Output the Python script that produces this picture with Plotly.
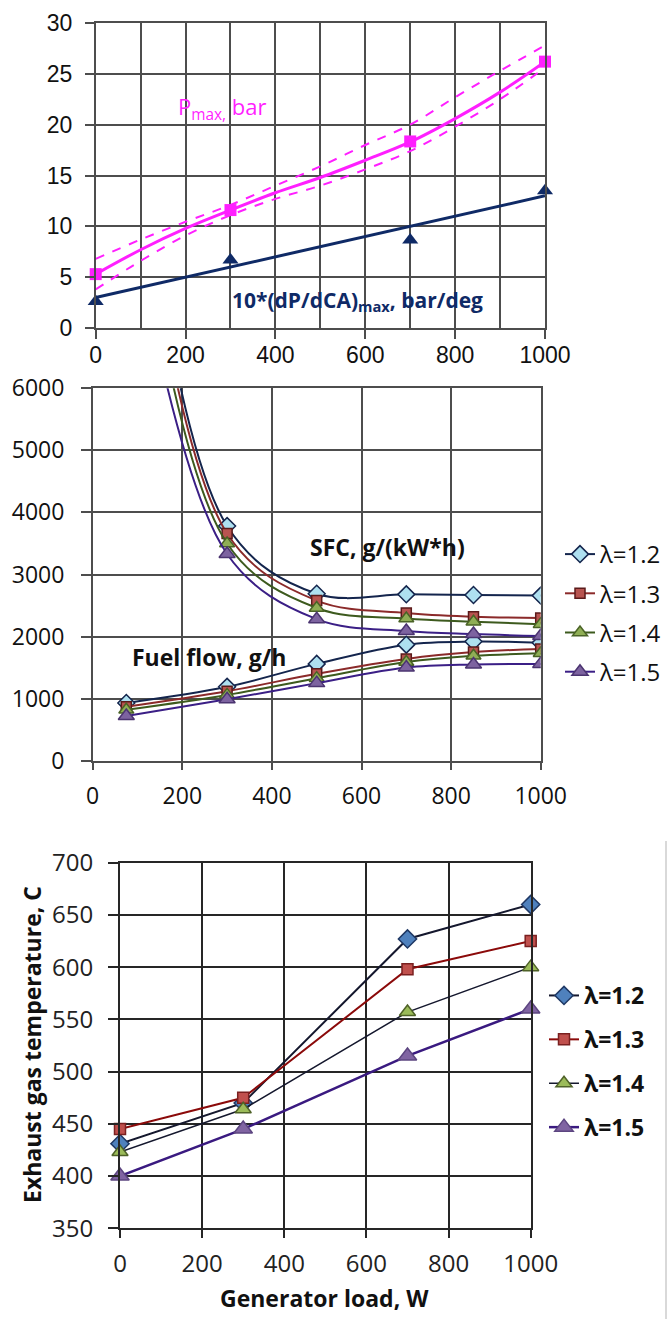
import plotly.graph_objects as go

W, H = 670, 1319

# ---------------- Top panel data ----------------
load_top = [0, 300, 700, 1000]
pmax_pts = [5.3, 11.6, 18.35, 26.2]
dpdca_pts = [2.6, 6.7, 8.65, 13.5]

fit_x = [0, 100, 200, 300, 400, 500, 600, 700, 800, 900, 1000]
pmax_fit = [5.3, 7.7, 9.8, 11.6, 13.3, 14.8, 16.5, 18.3, 20.6, 23.2, 26.2]
pmax_upper = [6.8, 8.7, 10.45, 12.1, 14.0, 15.9, 18.0, 20.0, 22.7, 25.3, 27.8]
pmax_lower = [3.8, 6.6, 9.1, 11.1, 12.7, 14.0, 15.6, 17.4, 19.8, 22.5, 25.6]
dp_fit_x = [0, 1000]
dp_fit = [3.0, 13.0]

# ---------------- Middle panel data ----------------
load_mid = [75, 300, 500, 700, 850, 1000]
lambdas = ["λ=1.2", "λ=1.3", "λ=1.4", "λ=1.5"]
sfc = {
    "λ=1.2": [11600, 3780, 2690, 2680, 2670, 2660],
    "λ=1.3": [11000, 3660, 2580, 2380, 2320, 2300],
    "λ=1.4": [10300, 3500, 2460, 2290, 2240, 2200],
    "λ=1.5": [9200, 3330, 2280, 2090, 2040, 2010],
}
fuel = {
    "λ=1.2": [930, 1190, 1560, 1870, 1920, 1900],
    "λ=1.3": [870, 1120, 1400, 1640, 1750, 1800],
    "λ=1.4": [820, 1060, 1330, 1590, 1690, 1730],
    "λ=1.5": [720, 990, 1250, 1500, 1550, 1560],
}

# ---------------- Bottom panel data ----------------
load_bot = [0, 300, 700, 1000]
exh = {
    "λ=1.2": [431, 470, 627, 660],
    "λ=1.3": [445, 475, 598, 625],
    "λ=1.4": [423, 464, 557, 600],
    "λ=1.5": [400, 445, 515, 560],
}

# ---------------- styles ----------------
mid_style = {
    "λ=1.2": dict(sym="diamond", fill="#aee0f0", edge="#14254d", line="#14254d", size=13),
    "λ=1.3": dict(sym="square", fill="#b85450", edge="#5a1a1a", line="#8b2a2a", size=10),
    "λ=1.4": dict(sym="triangle-up", fill="#8fae55", edge="#4a6326", line="#3d5a1e", size=13),
    "λ=1.5": dict(sym="triangle-up", fill="#7d63a0", edge="#4b3470", line="#3b1f86", size=14),
}
bot_style = {
    "λ=1.2": dict(sym="diamond", fill="#4f81bd", edge="#1f3864", line="#15182e", size=14, lw=2),
    "λ=1.3": dict(sym="square", fill="#c0504d", edge="#7a2020", line="#8b0a0a", size=11, lw=2),
    "λ=1.4": dict(sym="triangle-up", fill="#9bbb59", edge="#4f6228", line="#15182e", size=14, lw=1.5),
    "λ=1.5": dict(sym="triangle-up", fill="#8064a2", edge="#5c4580", line="#3a1a80", size=16, lw=2.5),
}

def py(px):
    return 1 - px / H

def pxx(px):
    return px / W

fig = go.Figure()

MAG = "#ff1fff"
NAVY = "#0f2a66"

# top traces
fig.add_trace(go.Scatter(x=fit_x, y=pmax_upper, mode="lines", line=dict(color=MAG, width=2, dash="dash", shape="spline"),
                         xaxis="x", yaxis="y", showlegend=False))
fig.add_trace(go.Scatter(x=fit_x, y=pmax_lower, mode="lines", line=dict(color=MAG, width=2, dash="dash", shape="spline"),
                         xaxis="x", yaxis="y", showlegend=False))
fig.add_trace(go.Scatter(x=fit_x, y=pmax_fit, mode="lines", line=dict(color=MAG, width=3, shape="spline"),
                         xaxis="x", yaxis="y", showlegend=False))
fig.add_trace(go.Scatter(x=load_top, y=pmax_pts, mode="markers", marker=dict(symbol="square", size=12, color=MAG),
                         xaxis="x", yaxis="y", showlegend=False, cliponaxis=False))
fig.add_trace(go.Scatter(x=dp_fit_x, y=dp_fit, mode="lines", line=dict(color=NAVY, width=3),
                         xaxis="x", yaxis="y", showlegend=False))
fig.add_trace(go.Scatter(x=load_top, y=dpdca_pts, mode="markers", marker=dict(symbol="triangle-up", size=14, color=NAVY),
                         xaxis="x", yaxis="y", showlegend=False, cliponaxis=False))

# middle traces
for lam in lambdas:
    s = mid_style[lam]
    mk = dict(symbol=s["sym"], size=s["size"], color=s["fill"], line=dict(color=s["edge"], width=1.5))
    fig.add_trace(go.Scatter(x=load_mid, y=sfc[lam], mode="lines+markers", name=lam, legendgroup=lam,
                             line=dict(color=s["line"], width=2, shape="spline"), marker=mk,
                             xaxis="x2", yaxis="y2", showlegend=True, legend="legend"))
    fig.add_trace(go.Scatter(x=load_mid, y=fuel[lam], mode="lines+markers", name=lam, legendgroup=lam,
                             line=dict(color=s["line"], width=2, shape="spline"), marker=mk,
                             xaxis="x2", yaxis="y2", showlegend=False))

# bottom traces
for lam in lambdas:
    s = bot_style[lam]
    mk = dict(symbol=s["sym"], size=s["size"], color=s["fill"], line=dict(color=s["edge"], width=1.5))
    fig.add_trace(go.Scatter(x=load_bot, y=exh[lam], mode="lines+markers", name=lam, legendgroup="b" + lam,
                             line=dict(color=s["line"], width=s["lw"]), marker=mk, cliponaxis=False,
                             xaxis="x3", yaxis="y3", showlegend=True, legend="legend2"))

GRID = "#4d4d4d"
GRID3 = "#262626"

def axis_common(font, color, gw):
    return dict(showgrid=True, gridcolor=color, gridwidth=gw, zeroline=False,
                showline=True, linecolor=color, linewidth=gw, mirror=True,
                ticks="outside", tickcolor=color, tickwidth=gw, tickfont=font)

top_font = dict(family="Liberation Sans, Arial", size=23, color="#111")
mid_font = dict(family="Open Sans", size=23, color="#111")
bot_font = dict(family="Open Sans", size=24, color="#222")

fig.update_layout(
    width=W, height=H, margin=dict(l=0, r=0, t=0, b=0, autoexpand=False),
    paper_bgcolor="white", plot_bgcolor="white",
    xaxis=dict(domain=[pxx(95.7), pxx(545)], anchor="y", range=[0, 1000], dtick=200, tick0=0,
               ticklen=9, ticklabelstandoff=-3,
               minor=dict(dtick=100, showgrid=True, gridcolor=GRID, gridwidth=1.5),
               **axis_common(top_font, GRID, 1.5)),
    yaxis=dict(domain=[py(328), py(23)], anchor="x", range=[0, 30], dtick=5, ticklen=9, ticklabelstandoff=8,
               **axis_common(top_font, GRID, 1.5)),
    xaxis2=dict(domain=[pxx(92.7), pxx(540.7)], anchor="y2", range=[0, 1000], dtick=200, ticklen=8,
                ticklabelstandoff=6, **axis_common(mid_font, GRID, 1.5)),
    yaxis2=dict(domain=[py(760.7), py(388.3)], anchor="x2", range=[0, 6000], dtick=1000, ticklen=10,
                ticklabelstandoff=12, **axis_common(mid_font, GRID, 1.5)),
    xaxis3=dict(domain=[pxx(120), pxx(530.7)], anchor="y3", range=[0, 1000], dtick=200, ticklen=8,
                ticklabelstandoff=5, **axis_common(bot_font, GRID3, 2)),
    yaxis3=dict(domain=[py(1228.3), py(862.7)], anchor="x3", range=[350, 700], dtick=50, ticklen=10,
                ticklabelstandoff=10, **axis_common(bot_font, GRID3, 2)),
    legend=dict(x=pxx(560), y=py(532), xanchor="left", yanchor="top", traceorder="grouped",
                tracegroupgap=5, font=dict(family="Open Sans", size=24, color="#111"),
                bgcolor="rgba(0,0,0,0)"),
    legend2=dict(x=pxx(544), y=py(974), xanchor="left", yanchor="top", traceorder="grouped",
                 tracegroupgap=11, font=dict(family="Open Sans", size=23, color="#111", weight="bold"),
                 bgcolor="rgba(0,0,0,0)"),
    showlegend=True,
)

annots = [
    dict(text="P<sub>max,</sub> bar", x=pxx(176), y=py(108), font=dict(family="Open Sans", size=22, color=MAG)),
    dict(text="<b>10*(dP/dCA)<sub>max</sub>, bar/deg</b>", x=pxx(230), y=py(301),
         font=dict(family="Open Sans", size=21, color=NAVY)),
    dict(text="<b>SFC, g/(kW*h)</b>", x=pxx(308), y=py(547), font=dict(family="Open Sans", size=23, color="#111")),
    dict(text="<b>Fuel flow, g/h</b>", x=pxx(130), y=py(657), font=dict(family="Open Sans", size=23, color="#111")),
]
for a in annots:
    fig.add_annotation(xref="paper", yref="paper", xanchor="left", yanchor="middle", showarrow=False, **a)

fig.add_annotation(xref="paper", yref="paper", x=pxx(324), y=py(1298), xanchor="center", yanchor="middle",
                   showarrow=False, text="<b>Generator load, W</b>",
                   font=dict(family="Open Sans", size=23, color="#111"))
fig.add_annotation(xref="paper", yref="paper", x=pxx(32), y=py(1045), xanchor="center", yanchor="middle",
                   showarrow=False, textangle=-90, text="<b>Exhaust gas temperature, C</b>",
                   font=dict(family="Open Sans", size=23, color="#111"))

fig.add_shape(type="line", xref="paper", yref="paper", x0=pxx(666), x1=pxx(666), y0=py(841), y1=0,
              line=dict(color="#d9d9d9", width=2))

fig.write_html("out.html")
